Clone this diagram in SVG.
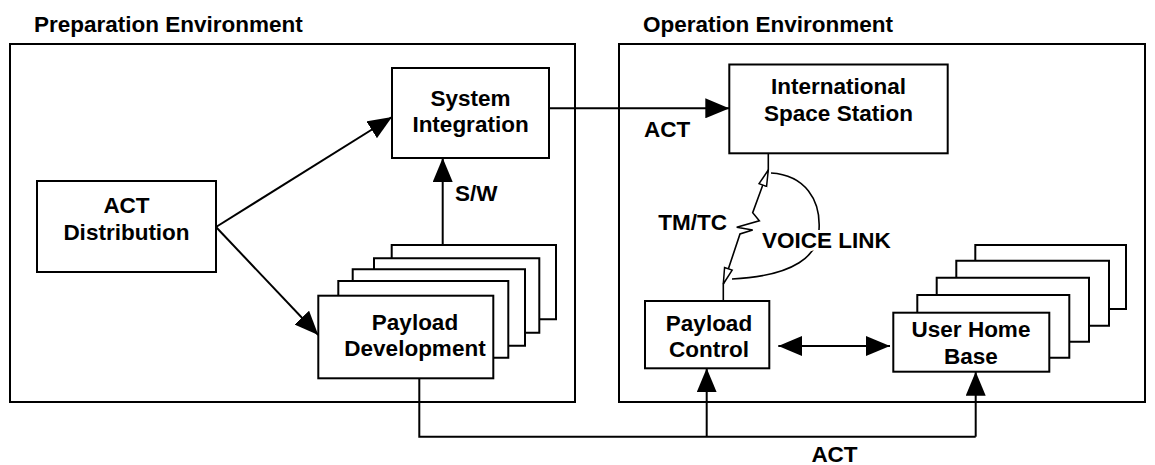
<svg xmlns="http://www.w3.org/2000/svg" width="1155" height="465" viewBox="0 0 1155 465">
  <defs>
    <style>
      text { font-family: "Liberation Sans", Arial, sans-serif; font-weight: bold; font-size: 22.5px; fill: #000; }
      .mid { text-anchor: middle; }
      .box { fill: #fff; stroke: #000; stroke-width: 2; }
      .frame { fill: none; stroke: #000; stroke-width: 2; }
      .stack { fill: #fff; stroke: #000; stroke-width: 2; }
      .wire { fill: none; stroke: #000; stroke-width: 2; }
      .thin { fill: none; stroke: #000; stroke-width: 1.6; }
      .masked { stroke: #fff; stroke-width: 6; paint-order: stroke; stroke-linejoin: round; }
    </style>
    <marker id="arrow" markerUnits="userSpaceOnUse" markerWidth="24" markerHeight="20" refX="24" refY="10" orient="auto-start-reverse">
      <path d="M0,0 L24,10 L0,20 z" fill="#000"/>
    </marker>
    <marker id="open" markerUnits="userSpaceOnUse" markerWidth="20" markerHeight="14" refX="17" refY="7" orient="auto-start-reverse">
      <path d="M1,3 L17,7 L1,11 z" fill="#fff" stroke="#000" stroke-width="1.5"/>
    </marker>
  </defs>

  <!-- environment frames -->
  <g id="preparation-environment">
    <rect class="frame" x="10" y="44" width="565" height="358"/>
    <text x="34" y="32">Preparation Environment</text>
  </g>
  <g id="operation-environment">
    <rect class="frame" x="619" y="44" width="526" height="358"/>
    <text x="643" y="32">Operation Environment</text>
  </g>

  <!-- connectors -->
  <g id="connectors">
    <line class="wire" x1="216" y1="227" x2="392" y2="117" marker-end="url(#arrow)"/>
    <line class="wire" x1="216" y1="227" x2="318.3" y2="335" marker-end="url(#arrow)"/>
    <line class="wire" x1="442.7" y1="245" x2="442.7" y2="158" marker-end="url(#arrow)"/>
    <line class="wire" x1="549" y1="108.3" x2="729.3" y2="108.3" marker-end="url(#arrow)"/>
    <path class="wire" d="M419.3,378.3 V436.7 H975.7"/>
    <line class="wire" x1="706.7" y1="436.7" x2="706.7" y2="368.3" marker-end="url(#arrow)"/>
    <line class="wire" x1="975.7" y1="436.7" x2="975.7" y2="371.7" marker-end="url(#arrow)"/>
    <line class="wire" x1="778.3" y1="346" x2="890" y2="346" marker-start="url(#arrow)" marker-end="url(#arrow)"/>
    <!-- TM/TC link with zigzag -->
    <line class="thin" x1="768.3" y1="153.3" x2="768.3" y2="170"/>
    <path class="thin" d="M768.3,170 L752.7,212.7 L759.3,220.7 L736.7,227.3 L752.7,230 L740,234 L723.3,284" marker-start="url(#open)" marker-end="url(#open)"/>
    <line class="thin" x1="723.3" y1="284" x2="723.3" y2="301"/>
    <!-- voice link -->
    <path class="thin" d="M771,173 C805,175 821,200 819,230 C819,255 795,276 732,279"/>
    <text x="644" y="137">ACT</text>
    <text x="455" y="201">S/W</text>
    <text x="727" y="230" text-anchor="end">TM/TC</text>
    <text class="masked" x="762" y="248">VOICE LINK</text>
    <text class="mid" x="834.5" y="462">ACT</text>
  </g>

  <!-- nodes -->
  <g id="act-distribution">
    <rect class="box" x="37" y="181" width="179" height="91"/>
    <text class="mid" x="126.5" y="213">ACT</text>
    <text class="mid" x="126.5" y="240">Distribution</text>
  </g>

  <g id="system-integration">
    <rect class="box" x="392" y="68" width="157" height="90"/>
    <text class="mid" x="470.5" y="105.7">System</text>
    <text class="mid" x="470.5" y="132.3">Integration</text>
  </g>

  <g id="payload-development">
    <path class="stack" d="M391.7,258.3 V245 H556 V319.3 H539.3"/>
    <path class="stack" d="M374,269.3 V258.3 H539.3 V332.7 H525"/>
    <path class="stack" d="M352.7,281 V269.3 H525 V345.7 H508.3"/>
    <path class="stack" d="M338.3,295.7 V281 H508.3 V357.7 H493.3"/>
    <rect class="box" x="318.3" y="295.7" width="175" height="82.6"/>
    <text class="mid" x="415" y="330">Payload</text>
    <text class="mid" x="415" y="356">Development</text>
  </g>

  <g id="international-space-station">
    <rect class="box" x="729.3" y="64.5" width="218.4" height="88.8"/>
    <text class="mid" x="838.5" y="94.3">International</text>
    <text class="mid" x="838.5" y="121">Space Station</text>
  </g>

  <g id="payload-control">
    <rect class="box" x="645" y="301" width="124.3" height="67.3"/>
    <text class="mid" x="709" y="331">Payload</text>
    <text class="mid" x="709" y="356.7">Control</text>
  </g>

  <g id="user-home-base">
    <path class="stack" d="M975.3,260.7 V245 H1126 V309 H1109"/>
    <path class="stack" d="M956.3,277.7 V260.7 H1109 V325.7 H1089"/>
    <path class="stack" d="M936.7,295 V277.7 H1089 V341.7 H1069.3"/>
    <path class="stack" d="M917.3,312.7 V295 H1069.3 V357.7 H1049.3"/>
    <rect class="box" x="893.3" y="312.7" width="156" height="59"/>
    <text class="mid" x="971" y="337.3">User Home</text>
    <text class="mid" x="971" y="364.3">Base</text>
  </g>
</svg>
